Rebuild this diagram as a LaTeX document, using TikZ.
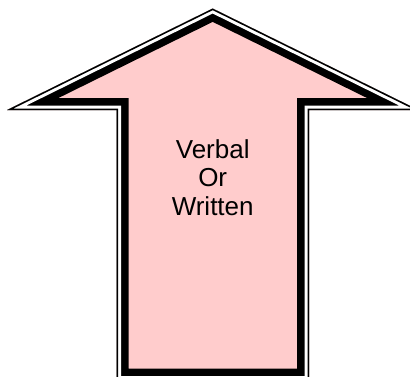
\documentclass[tikz,border=0pt]{standalone}
\usepackage{fontspec}
\setmainfont{Liberation Sans}
\definecolor{arrowpink}{RGB}{255,204,204}
\tikzset{
  outerband/.style={draw=black, line width=24pt, line join=miter},
  gapband/.style={draw=white, line width=9pt, line join=miter},
  thinband/.style={draw=black, line width=3pt, line join=miter},
  label/.style={align=center, font=\fontsize{26}{28.5}\selectfont}
}
\def\uparrowpath{(212.7,8.5) -- (418.5,110) -- (309,110) -- (309,380.5) -- (116.5,380.5) -- (116.5,110) -- (7,110) -- cycle}

\begin{document}
\begin{tikzpicture}[x=1pt,y=-1pt]
        \useasboundingbox (0,0) rectangle (410,376);
        \clip (0,0) rectangle (410,376);

        % body of the arrow
        \fill[arrowpink] \uparrowpath;

        % thick-thin border, kept inside the outline
        \begin{scope}
          \clip \uparrowpath;
          \path[outerband] \uparrowpath;
          \path[gapband] \uparrowpath;
          \path[thinband] \uparrowpath;
        \end{scope}

        % text
        \node[label, anchor=base] (text) at (212.7,215) {Verbal\\Or\\Written};
\end{tikzpicture}
\end{document}
